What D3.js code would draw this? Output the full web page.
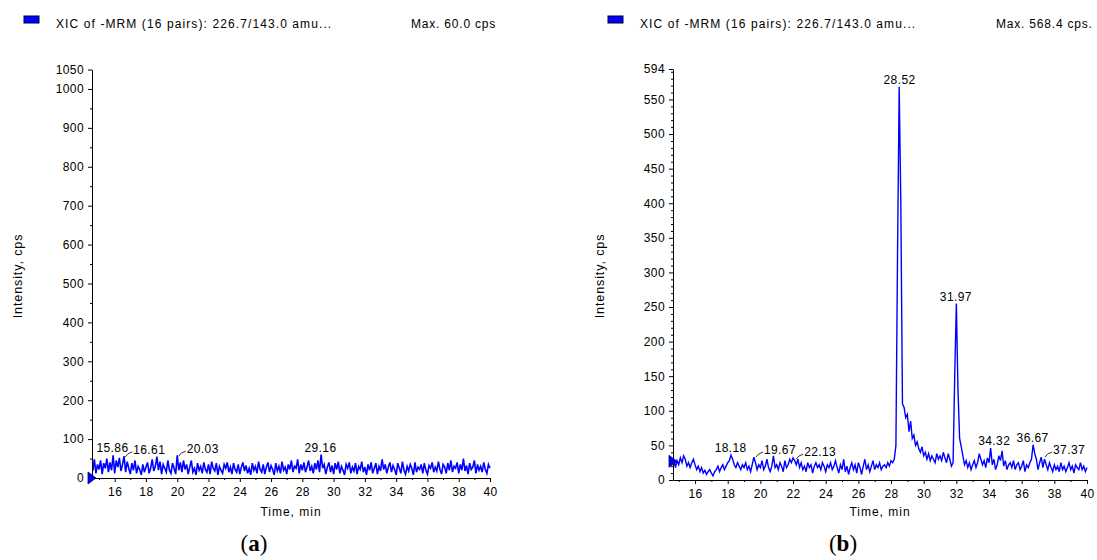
<!DOCTYPE html>
<html>
<head>
<meta charset="utf-8">
<script src="https://cdn.jsdelivr.net/npm/d3@7"></script>
<style>
  body { margin: 0; background: #fff; }
  svg text { font-family: "Liberation Sans", Arial, sans-serif; fill: #000; }
</style>
</head>
<body>
<svg id="chart" width="1097" height="560"></svg>
<script>
// sampling of both traces (minutes)
const leftStart = 14.6, rightStart = 14.7, timeStep = 0.1;

// panel (a): noise only, Max. 60.0 cps
const leftIntensity = [
  18, 48, 12, 35, 22, 45, 10, 38, 25, 50,
  15, 40, 20, 58, 12, 45, 28, 52, 18, 35,
  56, 15, 42, 25, 10, 38, 20, 45, 12, 30,
  22, 8, 35, 15, 28, 40, 12, 25, 48, 18,
  30, 55, 20, 42, 10, 35, 25, 15, 45, 20,
  12, 38, 25, 10, 58, 20, 40, 15, 45, 22,
  35, 10, 28, 45, 15, 25, 8, 38, 20, 30,
  12, 40, 22, 15, 35, 10, 42, 25, 18, 38,
  8, 30, 20, 12, 35, 25, 40, 15, 28, 10,
  38, 22, 15, 35, 10, 28, 40, 18, 32, 12,
  25, 8, 38, 20, 30, 12, 42, 22, 15, 35,
  10, 28, 40, 15, 32, 22, 8, 38, 18, 30,
  12, 42, 20, 28, 10, 35, 22, 45, 15, 30,
  25, 48, 12, 35, 20, 40, 15, 28, 45, 18,
  30, 12, 38, 22, 45, 15, 60, 25, 35, 10,
  28, 40, 15, 32, 10, 38, 22, 42, 12, 30,
  20, 8, 35, 25, 40, 12, 28, 18, 38, 10,
  30, 22, 42, 15, 28, 8, 35, 20, 40, 12,
  25, 38, 10, 30, 18, 48, 22, 35, 12, 28,
  40, 15, 32, 22, 8, 38, 25, 12, 42, 20,
  10, 30, 18, 35, 25, 8, 40, 15, 28, 22,
  35, 12, 38, 20, 10, 32, 25, 40, 15, 28,
  18, 42, 22, 10, 35, 28, 12, 38, 20, 45,
  15, 30, 25, 40, 12, 35, 20, 50, 18, 32,
  10, 38, 22, 28, 45, 12, 35, 20, 30, 15,
  40, 22, 12, 35, 25
];

// panel (b): peaks at 28.52 and 31.97, Max. 568.4 cps
const rightIntensity = [
  30, 18, 28, 22, 32, 25, 35, 30, 20, 25,
  18, 25, 30, 22, 15, 20, 12, 18, 10, 14,
  8, 12, 15, 10, 6, 12, 15, 20, 12, 18,
  22, 15, 20, 25, 28, 36, 30, 22, 18, 25,
  20, 15, 22, 18, 25, 15, 20, 12, 22, 33,
  25, 15, 22, 18, 28, 15, 20, 30, 18, 12,
  20, 35, 18, 22, 15, 25, 20, 12, 28, 18,
  22, 30, 25, 32, 28, 22, 30, 18, 25, 15,
  20, 12, 25, 18, 22, 10, 20, 25, 18, 22,
  15, 25, 20, 12, 22, 18, 25, 15, 20, 28,
  18, 10, 22, 15, 30, 12, 20, 8, 18, 25,
  15, 22, 10, 25, 18, 8, 20, 30, 15, 22,
  12, 20, 28, 15, 22, 18, 25, 15, 20, 22,
  18, 25, 20, 28, 25, 30, 50, 330, 568.4, 400,
  110, 105, 90, 95, 70, 85, 60, 65, 50, 55,
  45, 40, 48, 35, 40, 30, 38, 28, 35, 30,
  25, 38, 30, 35, 28, 40, 32, 25, 38, 30,
  20, 25, 150, 255, 130, 60, 48, 35, 22, 28,
  18, 25, 15, 22, 28, 18, 25, 38, 30, 22,
  28, 18, 32, 25, 46, 22, 30, 15, 22, 35,
  28, 42, 20, 28, 15, 22, 25, 18, 28, 15,
  22, 25, 15, 20, 28, 12, 22, 18, 25, 30,
  51, 38, 30, 15, 25, 33, 18, 30, 22, 15,
  25, 18, 12, 22, 15, 20, 12, 25, 15, 20,
  12, 18, 25, 15, 20, 10, 22, 18, 15, 25,
  15, 20, 12, 18
];

const leftPeakTimes = [15.86, 16.61, 20.03, 29.16];
const leftPeakValues = [58, 54, 56, 60];
const rightPeakTimes = [18.18, 19.67, 22.13, 28.52, 31.97, 34.32, 36.67, 37.37];
const rightPeakValues = [36, 33, 30, 568.4, 255, 46, 51, 33];

const timeTicks = d3.range(16, 41, 2);
const timeMinor = d3.range(15, 40, 2);
const leftTicks = [0, 100, 200, 300, 400, 500, 600, 700, 800, 900, 1000, 1050];
const rightTicks = [0, 50, 100, 150, 200, 250, 300, 350, 400, 450, 500, 550, 594];

const svg = d3.select('#chart');
const fmt = d3.format('d');

function drawPanel(cfg) {
  const g = svg.append('g');
  const x = d3.scaleLinear().domain(cfg.xDomain).range(cfg.xRange);
  const y = d3.scaleLinear().domain([0, cfg.yMax]).range(cfg.yRange);

  // legend
  g.append('rect')
    .attr('x', cfg.legendX).attr('y', 16).attr('width', 15).attr('height', 7)
    .attr('fill', '#0000ff').attr('stroke', '#000033').attr('stroke-width', 1);
  g.append('text')
    .attr('x', cfg.legendX + 32).attr('y', 28)
    .style('font-size', '12px').style('letter-spacing', '1.1px')
    .text('XIC of -MRM (16 pairs): 226.7/143.0 amu...');
  g.append('text')
    .attr('x', cfg.maxX).attr('y', 28)
    .style('font-size', '12px').style('letter-spacing', '0.8px')
    .text(cfg.maxText);

  // trace
  const line = d3.line()
    .x((d, i) => x(cfg.start + i * timeStep))
    .y(d => y(d));
  g.append('path')
    .datum(cfg.values)
    .attr('fill', 'none')
    .attr('stroke', '#0000ff')
    .attr('stroke-width', cfg.lineWidth)
    .attr('d', line);

  // x axis
  const xAxis = g.append('g')
    .attr('transform', `translate(0,${cfg.yRange[0]})`)
    .call(d3.axisBottom(x).tickValues(timeTicks).tickSize(4).tickSizeOuter(0).tickPadding(5));
  g.append('g')
    .attr('transform', `translate(0,${cfg.yRange[0]})`)
    .call(d3.axisBottom(x).tickValues(timeMinor).tickSize(2).tickSizeOuter(0).tickFormat(''))
    .select('.domain').remove();

  // y axis
  const yAxis = g.append('g')
    .attr('transform', `translate(${cfg.xRange[0]},0)`)
    .call(d3.axisLeft(y).tickValues(cfg.yTicks).tickSize(4).tickSizeOuter(0).tickPadding(4).tickFormat(fmt));
  g.append('g')
    .attr('transform', `translate(${cfg.xRange[0]},0)`)
    .call(d3.axisLeft(y).tickValues(cfg.yMinor).tickSize(2).tickSizeOuter(0).tickFormat(''))
    .select('.domain').remove();

  [xAxis, yAxis].forEach(a => {
    a.selectAll('text').style('font-size', '12px').style('letter-spacing', '0.4px')
      .attr('fill', '#000').style('font-family', '"Liberation Sans", Arial, sans-serif');
    a.selectAll('line, path').attr('stroke', '#000');
  });

  // threshold marker on y axis
  const ty = y(cfg.marker);
  const x0 = cfg.xRange[0];
  g.append('path')
    .attr('d', `M${x0 - 4},${ty - 6}L${x0 + 4},${ty}L${x0 - 4},${ty + 6}Z`)
    .attr('fill', '#0000ff').attr('stroke', '#000066').attr('stroke-width', 0.8);

  // axis titles
  g.append('text')
    .attr('x', (cfg.xRange[0] + cfg.xRange[1]) / 2).attr('y', 516)
    .attr('text-anchor', 'middle')
    .style('font-size', '12px').style('letter-spacing', '1px')
    .text('Time, min');
  g.append('text')
    .attr('transform', `translate(${cfg.yLabelX},276) rotate(-90)`)
    .attr('text-anchor', 'middle')
    .style('font-size', '12.5px').style('letter-spacing', '0.9px')
    .text('Intensity, cps');

  // peak labels
  cfg.peakTimes.forEach((t, i) => {
    const px = x(t), py = y(cfg.peakValues[i]);
    const lead = cfg.leaders.includes(t);
    if (lead) {
      g.append('path')
        .attr('d', `M${px + 1},${py}Q${px + 3},${py - 4} ${px + 8},${py - 5}`)
        .attr('fill', 'none').attr('stroke', '#000').attr('stroke-width', 0.8);
    }
    g.append('text')
      .attr('x', lead ? px + 9 : px)
      .attr('y', py - 3)
      .attr('text-anchor', lead ? 'start' : 'middle')
      .style('font-size', '12px').style('letter-spacing', '0.4px')
      .text(d3.format('.2f')(t));
  });

  // caption
  const cap = svg.append('text')
    .attr('x', cfg.captionX).attr('y', 551)
    .attr('text-anchor', 'middle')
    .style('font-family', '"Liberation Serif", "Times New Roman", serif')
    .style('font-size', '23px');
  cap.append('tspan').text('(');
  cap.append('tspan').style('font-weight', 'bold').text(cfg.caption);
  cap.append('tspan').text(')');
}

drawPanel({
  values: leftIntensity, start: leftStart, lineWidth: 1.6,
  xDomain: [14.55, 40], xRange: [92, 490],
  yMax: 1050, yRange: [478, 69.5],
  yTicks: leftTicks, yMinor: d3.range(50, 1050, 100),
  marker: 0,
  legendX: 24, maxX: 411, maxText: 'Max. 60.0 cps',
  yLabelX: 22,
  peakTimes: leftPeakTimes, peakValues: leftPeakValues, leaders: [16.61, 20.03],
  captionX: 254, caption: 'a'
});

drawPanel({
  values: rightIntensity, start: rightStart, lineWidth: 1.4,
  xDomain: [14.65, 40], xRange: [673, 1087],
  yMax: 594, yRange: [480, 69],
  yTicks: rightTicks, yMinor: d3.range(10, 594, 10).filter(v => v % 50 !== 0),
  marker: 27,
  legendX: 608, maxX: 996, maxText: 'Max. 568.4 cps.',
  yLabelX: 604,
  peakTimes: rightPeakTimes, peakValues: rightPeakValues, leaders: [19.67, 22.13, 37.37],
  captionX: 843, caption: 'b'
});
</script>
</body>
</html>
